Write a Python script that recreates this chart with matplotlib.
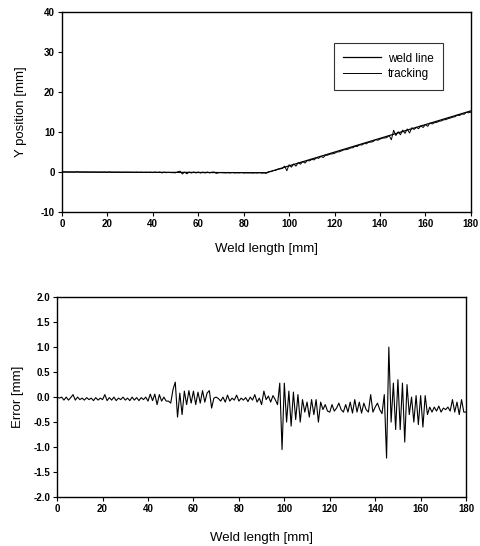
import numpy as np
import matplotlib
matplotlib.use("Agg")
import matplotlib.pyplot as plt

plt.rcParams['font.family'] = ['Liberation Sans', 'DejaVu Sans']
plt.rcParams['axes.unicode_minus'] = False

# Weld line breakpoints (top panel)
weld_x = [0, 90, 180]
weld_y = [0.0, -0.2, 15.3]

# Tracking error (bottom panel), sampled every 1 mm from 0 to 180
err_x = list(range(0, 181))
err_y = [
    0.00, -0.02, 0.00, -0.06, 0.00, -0.06, -0.01, 0.05, -0.06, 0.00,   # 0-9
    -0.05, -0.02, -0.06, -0.01, -0.05, -0.02, -0.07, -0.01, -0.06, -0.02,  # 10-19
    -0.05, 0.05, -0.07, -0.01, -0.06, 0.00, -0.07, -0.02, -0.05, 0.00,  # 20-29
    -0.06, -0.02, -0.07, 0.00, -0.06, -0.01, -0.07, -0.01, -0.05, 0.00,  # 30-39
    -0.08, 0.06, -0.07, 0.06, -0.15, 0.05, -0.08, 0.00, -0.08, -0.08,  # 40-49
    -0.12, 0.15, 0.30, -0.40, 0.08, -0.35, 0.12, -0.15, 0.13, -0.12,   # 50-59
    0.12, -0.15, 0.10, -0.12, 0.13, -0.10, 0.08, 0.13, -0.22, -0.02,   # 60-69
    0.00, -0.03, -0.08, 0.00, -0.10, 0.04, -0.08, -0.02, -0.06, 0.04,  # 70-79
    -0.08, -0.02, -0.06, -0.01, -0.09, 0.00, -0.06, 0.05, -0.10, -0.02,  # 80-89
    -0.15, 0.12, -0.05, 0.02, -0.10, 0.03, -0.05, -0.15, 0.28, -1.05,  # 90-99
    0.28, -0.50, 0.12, -0.58, 0.10, -0.45, 0.05, -0.50, -0.05, -0.30,  # 100-109
    -0.10, -0.40, -0.05, -0.35, -0.05, -0.50, -0.10, -0.25, -0.15, -0.28,  # 110-119
    -0.30, -0.15, -0.28, -0.22, -0.12, -0.25, -0.30, -0.15, -0.30, -0.10,  # 120-129
    -0.32, -0.05, -0.30, -0.10, -0.32, -0.12, -0.25, -0.30, 0.05, -0.30,  # 130-139
    -0.20, -0.12, -0.25, -0.33, 0.05, -1.22, 1.00, -0.50, 0.28, -0.65,  # 140-149
    0.35, -0.65, 0.28, -0.90, 0.25, -0.35, 0.00, -0.50, 0.03, -0.55,   # 150-159
    0.03, -0.60, 0.03, -0.35, -0.20, -0.30, -0.20, -0.28, -0.18, -0.30,  # 160-169
    -0.22, -0.25, -0.20, -0.28, -0.05, -0.30, -0.10, -0.35, -0.05, -0.30,  # 170-179
    -0.30,  # 180
]

x_ticks = [0, 20, 40, 60, 80, 100, 120, 140, 160, 180]
top_yticks = [-10, 0, 10, 20, 30, 40]
bot_yticks = [-2.0, -1.5, -1.0, -0.5, 0.0, 0.5, 1.0, 1.5, 2.0]

ex = np.array(err_x, dtype=float)
ey = np.array(err_y, dtype=float)
tracking_y = np.interp(ex, weld_x, weld_y) + ey

fig = plt.figure(figsize=(4.8, 5.46), dpi=100)
ax1 = fig.add_axes([0.129, 0.612, 0.852, 0.3655])
ax2 = fig.add_axes([0.119, 0.0897, 0.852, 0.366])

def style(ax):
    for s in ax.spines.values():
        s.set_linewidth(1.0)
        s.set_color('black')
    ax.tick_params(direction='out', length=3, width=0.8, labelsize=7, pad=2)
    for lab in ax.get_xticklabels() + ax.get_yticklabels():
        lab.set_fontweight('bold')

ax1.plot(weld_x, weld_y, color='black', lw=0.9, label='weld line')
ax1.plot(ex, tracking_y, color='black', lw=0.7, label='tracking')
ax1.set_xlim(0, 180)
ax1.set_ylim(-10, 40)
ax1.set_xticks(x_ticks)
ax1.set_yticks(top_yticks)
ax1.set_xlabel('Weld length [mm]', fontsize=9.5, labelpad=10)
ax1.set_ylabel('Y position [mm]', fontsize=9.5, labelpad=10)
leg = ax1.legend(loc='upper left', bbox_to_anchor=(0.65, 0.875), fontsize=8.5,
                 frameon=True, fancybox=False, edgecolor='black',
                 handlelength=3.2, borderpad=0.8, labelspacing=0.3, handletextpad=0.6)
leg.get_frame().set_linewidth(0.8)
style(ax1)

ax2.plot(ex, ey, color='black', lw=0.8)
ax2.set_xlim(0, 180)
ax2.set_ylim(-2.0, 2.0)
ax2.set_xticks(x_ticks)
ax2.set_yticks(bot_yticks)
ax2.set_yticklabels([f'{v:.1f}' for v in bot_yticks])
ax2.set_xlabel('Weld length [mm]', fontsize=9.5, labelpad=13)
ax2.set_ylabel('Error [mm]', fontsize=9.5, labelpad=7)
style(ax2)

fig.savefig('out.png', dpi=100, facecolor='white')
